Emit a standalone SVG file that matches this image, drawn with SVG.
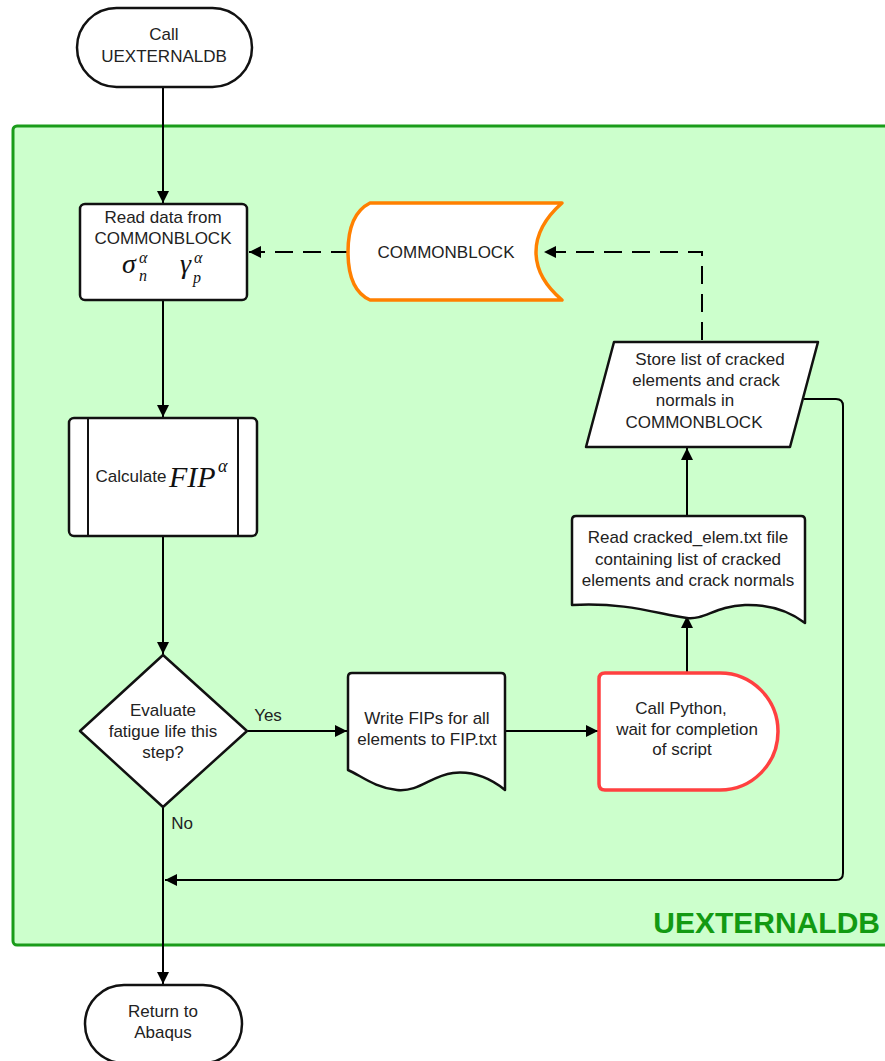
<svg xmlns="http://www.w3.org/2000/svg" width="885" height="1061" viewBox="0 0 885 1061">
  <style>
    .lbl { font-family: "Liberation Sans", Arial, sans-serif; font-size: 17px; fill: #222; text-anchor: middle; }
    .math { font-family: "Liberation Serif", "Times New Roman", serif; font-style: italic; fill: #111; }
    .shape { fill: #fff; stroke: #111; stroke-width: 2.5; stroke-linejoin: round; }
    .wire { fill: none; stroke: #000; stroke-width: 2; }
    .dash { fill: none; stroke: #000; stroke-width: 2; stroke-dasharray: 18 10; }
  </style>
  <defs>
    <marker id="arrow" viewBox="0 0 10 10" refX="10" refY="5" markerWidth="6" markerHeight="6" markerUnits="strokeWidth" orient="auto">
      <path d="M0,0 L10,5 L0,10 Z" fill="#000"/>
    </marker>
  </defs>

  <rect width="885" height="1061" fill="#fff"/>

  <!-- container -->
  <g id="container">
    <rect x="13" y="126" width="890" height="819" rx="4" fill="#ccffcc" stroke="#1a9c1a" stroke-width="3"/>
    <text x="880" y="933" font-family="Liberation Sans, Arial, sans-serif" font-size="30" font-weight="bold" fill="#129a12" text-anchor="end">UEXTERNALDB</text>
  </g>

  <!-- connectors -->
  <g id="connectors">
    <line class="wire" x1="163" y1="87" x2="163" y2="203" marker-end="url(#arrow)"/>
    <line class="wire" x1="163" y1="300" x2="163" y2="417" marker-end="url(#arrow)"/>
    <line class="wire" x1="163" y1="536" x2="163" y2="654" marker-end="url(#arrow)"/>
    <line class="wire" x1="163" y1="807" x2="163" y2="984" marker-end="url(#arrow)"/>
    <line class="wire" x1="247" y1="731" x2="347" y2="731" marker-end="url(#arrow)"/>
    <line class="wire" x1="505" y1="731" x2="598" y2="731" marker-end="url(#arrow)"/>
    <line class="wire" x1="687" y1="673" x2="687" y2="616" marker-end="url(#arrow)"/>
    <line class="wire" x1="687" y1="516" x2="687" y2="448" marker-end="url(#arrow)"/>
    <path class="wire" d="M804,399 H836 Q843,399 843,406 V873 Q843,880 836,880 H165" marker-end="url(#arrow)"/>
    <path class="dash" d="M702,340 V252 H544" marker-end="url(#arrow)"/>
    <line class="dash" x1="349" y1="252" x2="249" y2="252" marker-end="url(#arrow)"/>
  </g>

  <!-- start terminator -->
  <g id="start">
    <rect class="shape" x="77" y="8" width="175" height="79" rx="39.5"/>
    <text class="lbl" x="164" y="40">Call</text>
    <text class="lbl" x="164" y="62">UEXTERNALDB</text>
  </g>

  <!-- read data -->
  <g id="read-data">
    <rect class="shape" x="80" y="204" width="167" height="96" rx="5"/>
    <text class="lbl" x="163" y="223">Read data from</text>
    <text class="lbl" x="163" y="244">COMMONBLOCK</text>
    <text class="math" x="122" y="273" font-size="28">σ</text>
    <text class="math" x="139" y="263" font-size="16">α</text>
    <text class="math" x="139" y="281" font-size="16">n</text>
    <text class="math" x="180" y="273" font-size="28">γ</text>
    <text class="math" x="194" y="263" font-size="16">α</text>
    <text class="math" x="193" y="283" font-size="16">p</text>
  </g>

  <!-- commonblock storage -->
  <g id="commonblock">
    <path d="M370,203 H562 Q536,226 536,252 Q536,278 562,300 H370 Q348,290 348,252 Q348,214 370,203 Z" fill="#fff" stroke="#ff8000" stroke-width="3.5" stroke-linejoin="round"/>
    <text class="lbl" x="446" y="258">COMMONBLOCK</text>
  </g>

  <!-- calculate process -->
  <g id="calculate">
    <rect class="shape" x="69" y="418" width="188" height="118" rx="5"/>
    <line x1="88" y1="418" x2="88" y2="536" stroke="#111" stroke-width="2"/>
    <line x1="238" y1="418" x2="238" y2="536" stroke="#111" stroke-width="2"/>
    <text class="lbl" x="131" y="482">Calculate</text>
    <text class="math" x="169" y="487" font-size="30">FIP</text>
    <text class="math" x="218" y="472" font-size="18">α</text>
  </g>

  <!-- decision -->
  <g id="decision">
    <path class="shape" d="M163,655 L247,731 L163,807 L80,731 Z"/>
    <text class="lbl" x="163" y="716">Evaluate</text>
    <text class="lbl" x="163" y="737">fatigue life this</text>
    <text class="lbl" x="163" y="758">step?</text>
    <text class="lbl" x="268" y="721">Yes</text>
    <text class="lbl" x="182" y="829">No</text>
  </g>

  <!-- write FIPs document -->
  <g id="write-fips">
    <path class="shape" d="M352,673 H501 Q505,673 505,677 V790 Q480,770 453,773 C430,776 420,792 397,790 C375,788 360,775 348,770 V677 Q348,673 352,673 Z"/>
    <text class="lbl" x="427" y="724">Write FIPs for all</text>
    <text class="lbl" x="427" y="745">elements to FIP.txt</text>
  </g>

  <!-- call python delay -->
  <g id="call-python">
    <path d="M605,673 H720 A58,58.5 0 0 1 720,790 H605 Q599,790 599,784 V679 Q599,673 605,673 Z" fill="#fff" stroke="#ff4040" stroke-width="3.5"/>
    <text class="lbl" x="681" y="714">Call Python,</text>
    <text class="lbl" x="687" y="735">wait for completion</text>
    <text class="lbl" x="682" y="755">of script</text>
  </g>

  <!-- read cracked elements document -->
  <g id="read-cracked">
    <path class="shape" d="M576,516 H801 Q805,516 805,520 V623 Q780,604 745,605 C715,606 705,620 687,618 C660,615 630,602 572,605 V520 Q572,516 576,516 Z"/>
    <text class="lbl" x="688" y="543">Read cracked_elem.txt file</text>
    <text class="lbl" x="688" y="565">containing list of cracked</text>
    <text class="lbl" x="688" y="586">elements and crack normals</text>
  </g>

  <!-- store list parallelogram -->
  <g id="store-list">
    <path class="shape" d="M614,342 H818 L790,447 H586 Z"/>
    <text class="lbl" x="710" y="365">Store list of cracked</text>
    <text class="lbl" x="706" y="386">elements and crack</text>
    <text class="lbl" x="695" y="406">normals in</text>
    <text class="lbl" x="694" y="428">COMMONBLOCK</text>
  </g>

  <!-- return terminator -->
  <g id="return">
    <rect class="shape" x="85" y="985" width="157" height="78" rx="39"/>
    <text class="lbl" x="163" y="1017">Return to</text>
    <text class="lbl" x="163" y="1038">Abaqus</text>
  </g>
</svg>
